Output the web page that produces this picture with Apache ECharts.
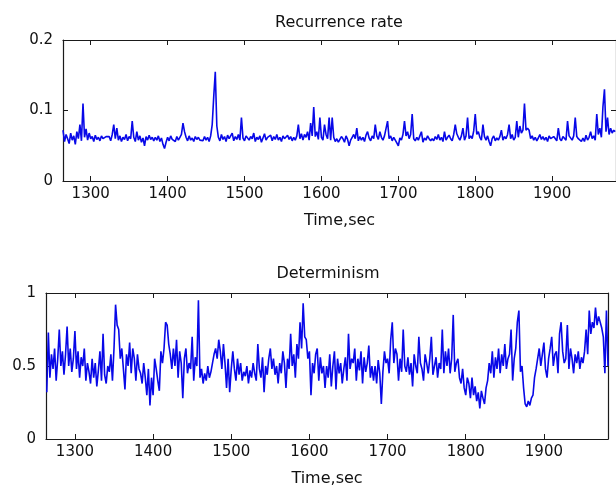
<!DOCTYPE html>
<html>
<head>
<meta charset="utf-8">
<title>Recurrence rate / Determinism</title>
<script src="https://cdn.jsdelivr.net/npm/echarts@6/dist/echarts.min.js"></script>
<style>
  html, body { margin: 0; padding: 0; background: #fff; }
  #chart { width: 616px; height: 490px; }
</style>
</head>
<body>
<div id="chart"></div>
<script>
// sample times: one value every 2 s starting at 1264 s
const startTime = 1264
const stepSec = 2

const timeTicks = [1300, 1400, 1500, 1600, 1700, 1800, 1900]

// Recurrence rate (30 samples = 60 s per row)
const recurrenceRate = [
  0.072, 0.056, 0.066, 0.060, 0.053, 0.068, 0.058, 0.064, 0.052, 0.070, 0.060, 0.080, 0.057, 0.110, 0.062, 0.074, 0.058, 0.068, 0.060, 0.063, 0.056, 0.065, 0.059, 0.062, 0.057, 0.064, 0.060, 0.058, 0.063, 0.061,
  0.063, 0.057, 0.066, 0.080, 0.060, 0.075, 0.058, 0.064, 0.056, 0.062, 0.059, 0.066, 0.057, 0.063, 0.060, 0.085, 0.062, 0.056, 0.070, 0.058, 0.064, 0.055, 0.061, 0.050, 0.063, 0.058, 0.065, 0.059, 0.062, 0.057,
  0.062, 0.058, 0.064, 0.056, 0.061, 0.052, 0.046, 0.055, 0.062, 0.057, 0.064, 0.059, 0.061, 0.056, 0.063, 0.058, 0.062, 0.066, 0.082, 0.070, 0.062, 0.057, 0.064, 0.058, 0.061, 0.056, 0.063, 0.059, 0.062, 0.058,
  0.060, 0.057, 0.063, 0.058, 0.062, 0.056, 0.064, 0.080, 0.120, 0.155, 0.078, 0.062, 0.057, 0.066, 0.059, 0.063, 0.056, 0.065, 0.060, 0.058, 0.068, 0.057, 0.063, 0.059, 0.066, 0.058, 0.090, 0.061, 0.057, 0.064,
  0.066, 0.058, 0.063, 0.060, 0.068, 0.056, 0.062, 0.059, 0.064, 0.055, 0.061, 0.067, 0.058, 0.062, 0.060, 0.065, 0.057, 0.063, 0.059, 0.066, 0.058, 0.062, 0.056, 0.064, 0.060, 0.058, 0.065, 0.059, 0.063, 0.057,
  0.062, 0.058, 0.064, 0.080, 0.060, 0.067, 0.058, 0.066, 0.062, 0.070, 0.058, 0.082, 0.064, 0.105, 0.063, 0.070, 0.059, 0.090, 0.062, 0.058, 0.080, 0.066, 0.060, 0.090, 0.058, 0.090, 0.062, 0.056, 0.060, 0.055,
  0.057, 0.063, 0.060, 0.055, 0.064, 0.059, 0.050, 0.058, 0.062, 0.066, 0.060, 0.075, 0.057, 0.063, 0.058, 0.062, 0.056, 0.065, 0.070, 0.061, 0.057, 0.064, 0.060, 0.080, 0.064, 0.059, 0.070, 0.062, 0.058, 0.064,
  0.066, 0.085, 0.060, 0.064, 0.057, 0.062, 0.058, 0.054, 0.050, 0.061, 0.058, 0.066, 0.085, 0.064, 0.070, 0.060, 0.066, 0.095, 0.060, 0.057, 0.062, 0.058, 0.064, 0.070, 0.055, 0.061, 0.058, 0.064, 0.060, 0.057,
  0.060, 0.057, 0.063, 0.059, 0.066, 0.058, 0.062, 0.056, 0.070, 0.058, 0.062, 0.065, 0.060, 0.057, 0.066, 0.080, 0.067, 0.062, 0.058, 0.064, 0.075, 0.058, 0.064, 0.090, 0.060, 0.064, 0.060, 0.071, 0.095, 0.066,
  0.070, 0.062, 0.058, 0.080, 0.063, 0.058, 0.064, 0.056, 0.050, 0.060, 0.064, 0.057, 0.061, 0.058, 0.063, 0.072, 0.058, 0.063, 0.060, 0.066, 0.080, 0.060, 0.066, 0.058, 0.062, 0.085, 0.062, 0.078, 0.068, 0.072,
  0.110, 0.072, 0.075, 0.072, 0.060, 0.064, 0.058, 0.062, 0.057, 0.061, 0.066, 0.059, 0.063, 0.058, 0.062, 0.056, 0.064, 0.060, 0.058, 0.063, 0.061, 0.057, 0.075, 0.060, 0.057, 0.063, 0.061, 0.058, 0.085, 0.064,
  0.062, 0.058, 0.064, 0.090, 0.063, 0.060, 0.058, 0.056, 0.061, 0.056, 0.065, 0.058, 0.062, 0.070, 0.060, 0.064, 0.058, 0.095, 0.066, 0.075, 0.062, 0.105, 0.130, 0.070, 0.090, 0.066, 0.075, 0.068, 0.072, 0.070
]

// Determinism
const determinism = [
  0.32, 0.73, 0.42, 0.58, 0.48, 0.62, 0.40, 0.55, 0.75, 0.50, 0.60, 0.44, 0.58, 0.77, 0.50, 0.62, 0.46, 0.55, 0.74, 0.48, 0.60, 0.42, 0.56, 0.50, 0.62, 0.40, 0.52, 0.46, 0.38, 0.55,
  0.42, 0.52, 0.36, 0.47, 0.60, 0.40, 0.72, 0.44, 0.38, 0.50, 0.46, 0.58, 0.40, 0.62, 0.92, 0.78, 0.75, 0.55, 0.62, 0.48, 0.34, 0.58, 0.50, 0.66, 0.45, 0.62, 0.55, 0.40, 0.58, 0.48,
  0.45, 0.38, 0.52, 0.42, 0.30, 0.48, 0.23, 0.42, 0.30, 0.55, 0.48, 0.40, 0.33, 0.60, 0.52, 0.62, 0.80, 0.78, 0.65, 0.58, 0.48, 0.62, 0.50, 0.68, 0.42, 0.60, 0.52, 0.28, 0.55, 0.62,
  0.45, 0.52, 0.48, 0.70, 0.40, 0.56, 0.50, 0.95, 0.42, 0.48, 0.38, 0.45, 0.40, 0.50, 0.42, 0.46, 0.52, 0.58, 0.62, 0.55, 0.68, 0.60, 0.48, 0.65, 0.52, 0.35, 0.55, 0.32, 0.48, 0.60,
  0.48, 0.40, 0.55, 0.44, 0.52, 0.40, 0.46, 0.43, 0.50, 0.38, 0.47, 0.42, 0.52, 0.45, 0.40, 0.65, 0.48, 0.42, 0.56, 0.32, 0.50, 0.44, 0.55, 0.62, 0.48, 0.55, 0.44, 0.50, 0.38, 0.52,
  0.45, 0.60, 0.52, 0.35, 0.55, 0.48, 0.72, 0.50, 0.58, 0.42, 0.65, 0.55, 0.80, 0.62, 0.93, 0.70, 0.68, 0.55, 0.60, 0.30, 0.52, 0.45, 0.58, 0.62, 0.40, 0.56, 0.45, 0.50, 0.35, 0.50,
  0.42, 0.58, 0.36, 0.50, 0.60, 0.34, 0.55, 0.45, 0.52, 0.38, 0.48, 0.56, 0.40, 0.72, 0.48, 0.55, 0.52, 0.62, 0.40, 0.55, 0.47, 0.60, 0.38, 0.56, 0.46, 0.52, 0.64, 0.42, 0.50, 0.40,
  0.50, 0.38, 0.54, 0.45, 0.24, 0.46, 0.60, 0.52, 0.55, 0.45, 0.68, 0.80, 0.52, 0.62, 0.58, 0.40, 0.55, 0.46, 0.75, 0.50, 0.46, 0.56, 0.44, 0.52, 0.36, 0.58, 0.50, 0.45, 0.70, 0.52,
  0.48, 0.40, 0.58, 0.52, 0.45, 0.55, 0.70, 0.44, 0.50, 0.56, 0.42, 0.52, 0.48, 0.75, 0.45, 0.60, 0.50, 0.62, 0.45, 0.55, 0.85, 0.46, 0.52, 0.55, 0.42, 0.38, 0.48, 0.35, 0.30, 0.42,
  0.38, 0.28, 0.42, 0.30, 0.36, 0.26, 0.32, 0.21, 0.33, 0.28, 0.24, 0.35, 0.40, 0.52, 0.45, 0.60, 0.42, 0.56, 0.48, 0.62, 0.45, 0.58, 0.50, 0.65, 0.48, 0.55, 0.58, 0.75, 0.40, 0.55,
  0.62, 0.80, 0.88, 0.46, 0.50, 0.35, 0.24, 0.22, 0.26, 0.23, 0.28, 0.30, 0.42, 0.48, 0.55, 0.62, 0.50, 0.58, 0.66, 0.48, 0.42, 0.55, 0.62, 0.70, 0.50, 0.58, 0.60, 0.45, 0.72, 0.80,
  0.60, 0.52, 0.55, 0.78, 0.48, 0.62, 0.55, 0.45, 0.58, 0.52, 0.60, 0.48, 0.56, 0.52, 0.60, 0.75, 0.58, 0.88, 0.72, 0.80, 0.76, 0.90, 0.78, 0.84, 0.85, 0.76, 0.70, 0.45, 0.88, 0.50
]

const font = 'DejaVu Sans'
const axisColor = '#1a1a1a'
const lineColor = '#0808e8'

function withTime(values) {
  return values.map((v, i) => [startTime + i * stepSec, v])
}

// one MATLAB-style box: ticks inside on all four sides
function xAxes(gridIndex, min, max, name, nameGap) {
  const common = {
    type: 'value',
    gridIndex: gridIndex,
    min: min,
    max: max,
    splitLine: { show: false },
    axisLine: { onZero: false, lineStyle: { color: axisColor, width: 1.2 } },
    axisTick: { inside: true, length: 5, customValues: timeTicks, lineStyle: { color: axisColor } }
  }
  return [
    Object.assign({}, common, {
      position: 'bottom',
      name: name,
      nameLocation: 'middle',
      nameGap: nameGap,
      nameTextStyle: { fontFamily: font, fontSize: 16, color: '#111' },
      axisLabel: {
        customValues: timeTicks,
        formatter: (v) => String(v),
        margin: 6, fontFamily: font, fontSize: 15, color: '#111'
      }
    }),
    Object.assign({}, common, { position: 'top', axisLabel: { show: false } })
  ]
}

function yAxes(gridIndex, max, interval) {
  const common = {
    type: 'value',
    gridIndex: gridIndex,
    min: 0,
    max: max,
    interval: interval,
    splitLine: { show: false },
    axisLine: { show: true, onZero: false, lineStyle: { color: axisColor, width: 1.2 } },
    axisTick: { show: true, inside: true, length: 5, lineStyle: { color: axisColor } }
  }
  return [
    Object.assign({}, common, {
      position: 'left',
      axisLabel: { margin: 10, fontFamily: font, fontSize: 15, color: '#111' }
    }),
    Object.assign({}, common, { position: 'right', axisLabel: { show: false } })
  ]
}

const chart = echarts.init(document.getElementById('chart'), null, { renderer: 'canvas' })

chart.setOption({
  animation: false,
  backgroundColor: '#ffffff',
  title: [
    {
      text: 'Recurrence rate',
      left: 334, top: 10, textAlign: 'center',
      textStyle: { fontFamily: font, fontSize: 16, fontWeight: 'normal', color: '#111' }
    },
    {
      text: 'Determinism',
      left: 323, top: 261, textAlign: 'center',
      textStyle: { fontFamily: font, fontSize: 16, fontWeight: 'normal', color: '#111' }
    }
  ],
  grid: [
    { left: 63, top: 40, height: 141, right: -4 },
    { left: 46, top: 293, height: 146, right: 8 }
  ],
  xAxis: [].concat(
    xAxes(0, 1264, 1983, 'Time,sec', 32),
    xAxes(1, 1263, 1982, 'Time,sec', 32)
  ),
  yAxis: [].concat(
    yAxes(0, 0.2, 0.1),
    yAxes(1, 1, 0.5)
  ),
  series: [
    {
      type: 'line',
      xAxisIndex: 0, yAxisIndex: 0,
      data: withTime(recurrenceRate),
      showSymbol: false,
      lineStyle: { color: lineColor, width: 1.6 }
    },
    {
      type: 'line',
      xAxisIndex: 2, yAxisIndex: 2,
      data: withTime(determinism),
      showSymbol: false,
      lineStyle: { color: lineColor, width: 1.6 }
    }
  ]
})
</script>
</body>
</html>
